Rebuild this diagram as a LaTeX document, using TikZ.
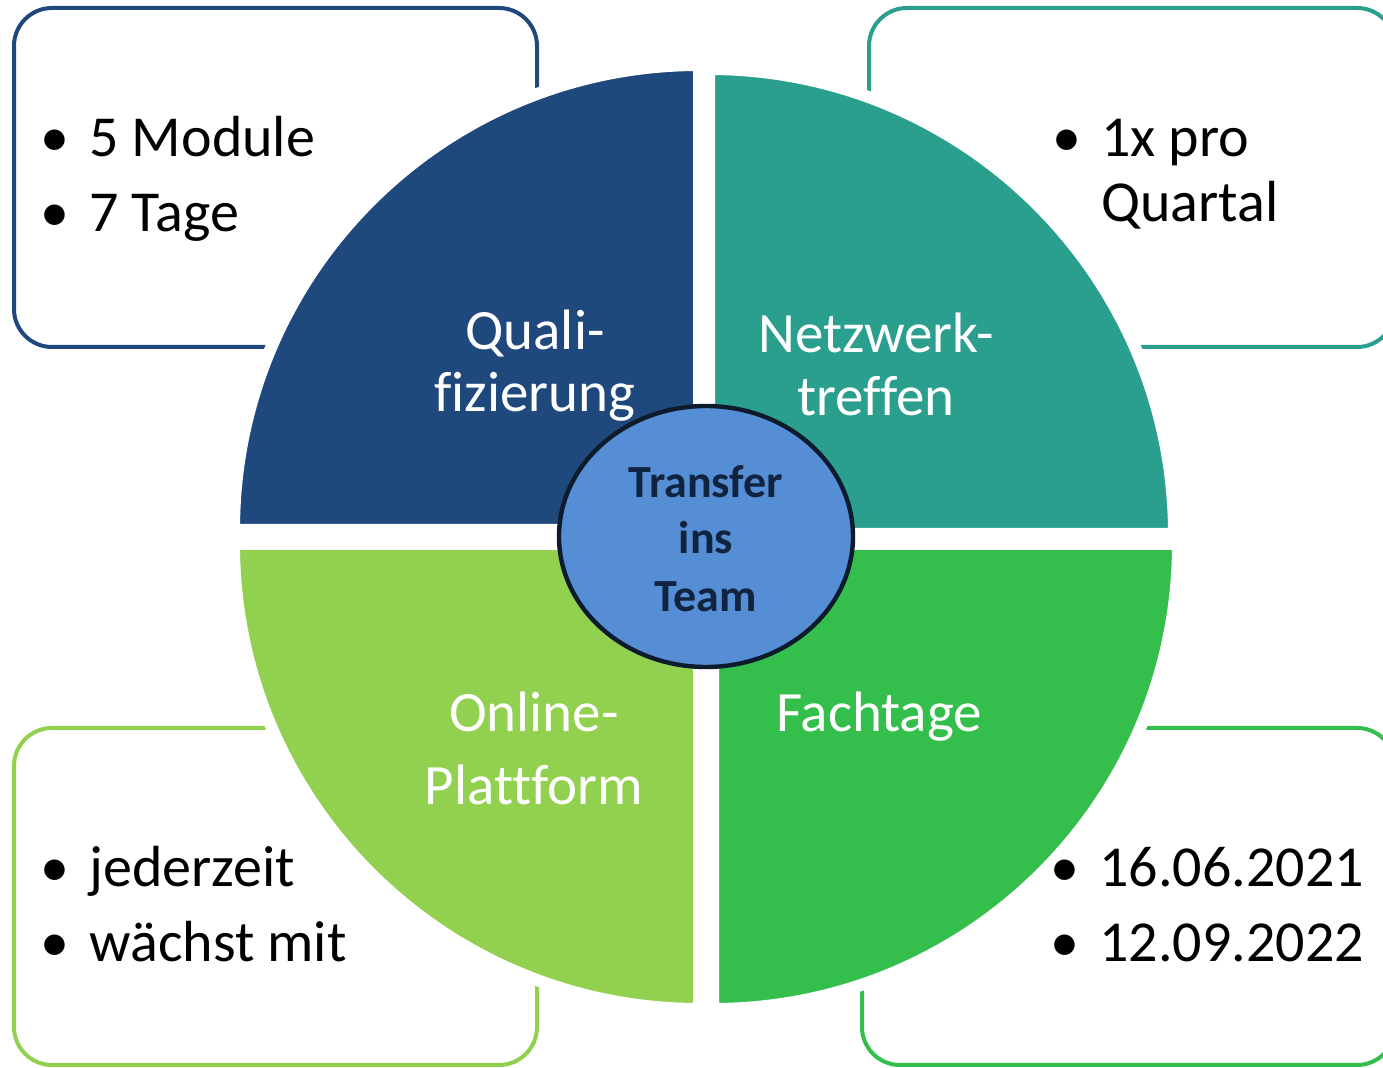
\documentclass[tikz,border=0pt]{standalone}
\usepackage{fontspec}
\setmainfont{Carlito}[Ligatures=NoCommon]
\definecolor{qblue}{HTML}{1F497D}
\definecolor{nteal}{HTML}{2A9F8E}
\definecolor{olime}{HTML}{92D050}
\definecolor{fgreen}{HTML}{34BF4D}
\definecolor{tfill}{HTML}{558ED5}
\definecolor{tline}{HTML}{0D1B2D}
\definecolor{ttext}{HTML}{10243F}
\newcommand{\bul}{\llap{\textbullet\hspace{10pt}}}

\begin{document}
\begin{tikzpicture}[x=0.5pt, y=-0.5pt,
	box/.style={line width=2pt, rounded corners=19pt},
	quarter/.style={draw=white, line width=6pt},
	quadtext/.style={anchor=base, text=white, inner sep=0pt, font=\fontsize{28.5}{34}\selectfont},
	item/.style={anchor=base west, inner sep=0pt, font=\fontsize{29}{35}\selectfont},
	core/.style={anchor=base, text=ttext, inner sep=0pt, font=\fontsize{23}{28}\selectfont\bfseries}]
	\useasboundingbox (0, 0) rectangle (1383, 1068);
	\clip (0, 0) rectangle (1383, 1068);

	\draw[box, qblue] (14, 8) rectangle (537, 347);
	\draw[box, nteal] (869, 8) rectangle (1395, 347);
	\draw[box, olime] (14, 728) rectangle (537, 1065);
	\draw[box, fgreen] (862, 728) rectangle (1395, 1065);

	\path[quarter, fill=qblue] (699, 530) -- ++(-465, 0) arc[start angle=180, end angle=270, radius=465] -- cycle;
	\path[quarter, fill=nteal] (709, 534) -- ++(0, -465) arc[start angle=270, end angle=360, radius=465] -- cycle;
	\path[quarter, fill=fgreen] (713, 544) -- ++(465, 0) arc[start angle=0, end angle=90, radius=465] -- cycle;
	\path[quarter, fill=olime] (699, 544) -- ++(0, 465) arc[start angle=90, end angle=180, radius=465] -- cycle;

	\draw[tline, fill=tfill, line width=2.2pt] (706, 536.5) ellipse [x radius=147, y radius=130.5];

	\node[quadtext](Q1) at (535, 350){Quali-};
	\node[quadtext](Q2) at (535, 412){fizierung};
	\node[quadtext](N1) at (876, 353){Netzwerk-};
	\node[quadtext](N2) at (876, 416){treffen};
	\node[quadtext](O1) at (534, 732){Online-};
	\node[quadtext](O2) at (534, 805){Plattform};
	\node[quadtext](F1) at (879, 732){Fachtage};

	\node[core](T1) at (706, 498){Transfer};
	\node[core](T2) at (706, 554){ins};
	\node[core](T3) at (706, 612){Team};

	\node[item](QA) at (89, 157){\bul 5 Module};
	\node[item](QB) at (89, 232){\bul 7 Tage};
	\node[item](NA) at (1101, 157){\bul 1x pro};
	\node[item](NB) at (1101, 222){Quartal};
	\node[item](OA) at (89, 887){\bul jederzeit};
	\node[item](OB) at (89, 962){\bul wächst mit};
	\node[item](FA) at (1099, 887){\bul 16.06.2021};
	\node[item](FB) at (1099, 962){\bul 12.09.2022};
\end{tikzpicture}
\end{document}
